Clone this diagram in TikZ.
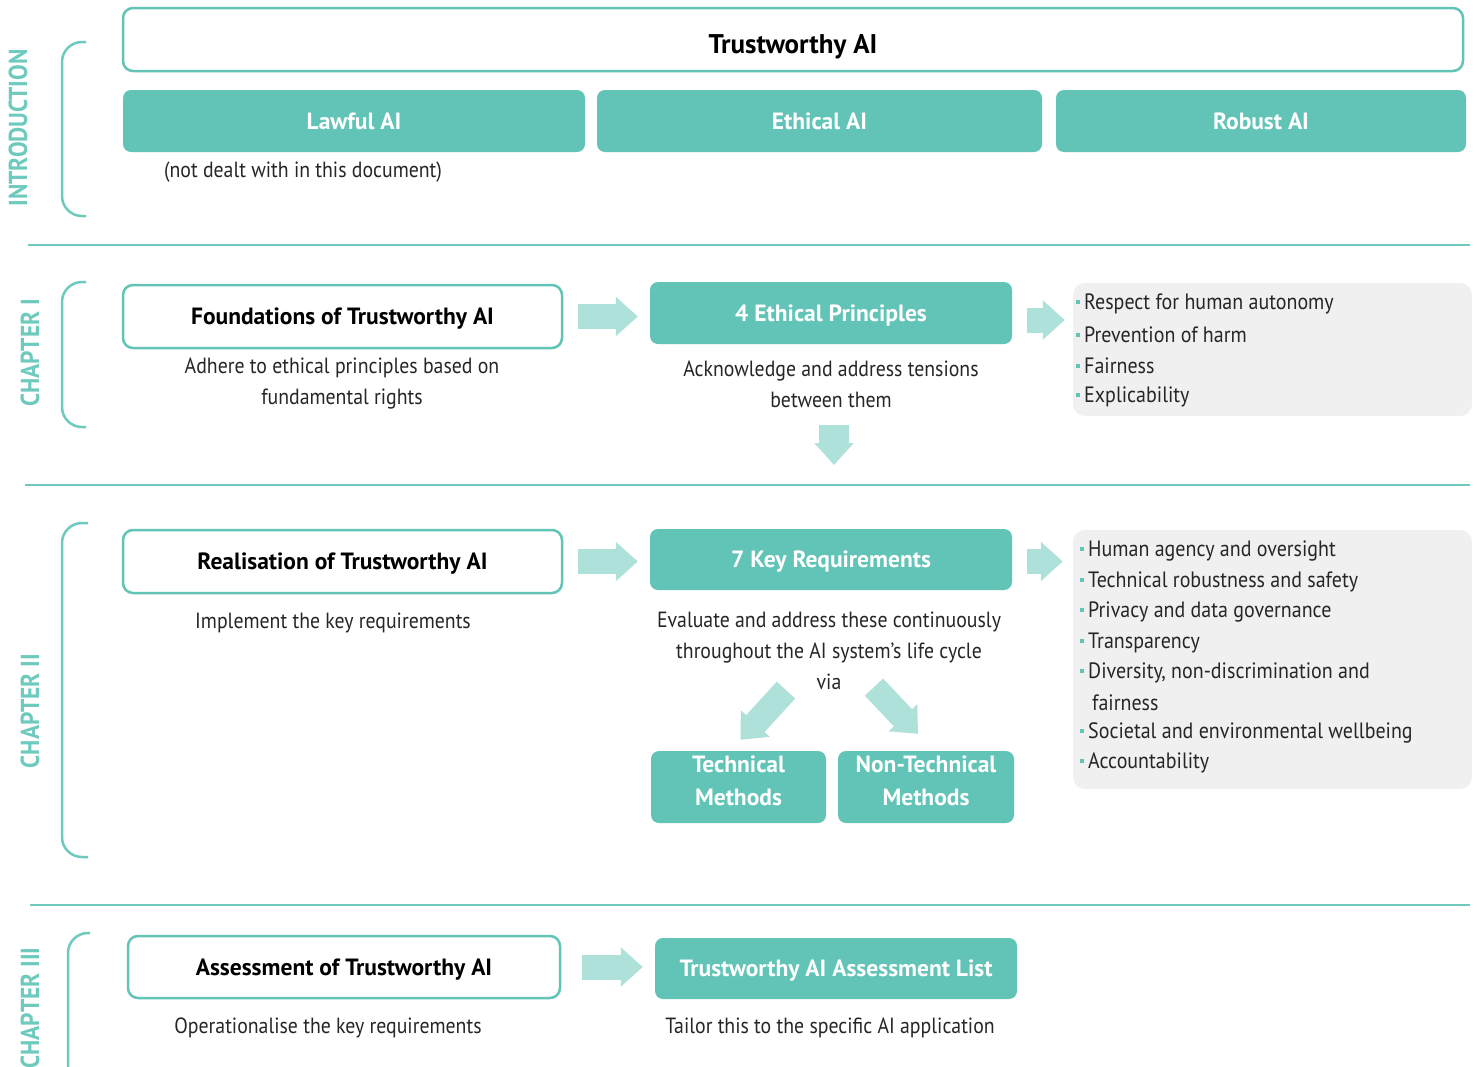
\documentclass[tikz,border=0pt]{standalone}
\usepackage{fontspec}
\setmainfont{PT Sans}[FakeStretch=0.9]
\newfontfamily\boldfont{PT Sans Bold}
\newfontfamily\condfont{PT Sans Bold}[FakeStretch=0.9]
\usetikzlibrary{arrows.meta,calc}
\definecolor{tealbox}{HTML}{62C4B7}
\definecolor{tealline}{HTML}{6FCABE}
\definecolor{arrowc}{HTML}{AEE1DA}
\definecolor{grayc}{HTML}{F0F0F0}
\definecolor{textc}{HTML}{262626}
\newcommand\bul{{\color{tealbox}\rule[0.26em]{4pt}{4pt}}\hspace{4pt}}
\tikzset{
  outbox/.style={draw=tealbox, line width=2.5pt, rounded corners=10pt, fill=white, inner sep=0pt,
    font=\boldfont\fontsize{23.5}{28}\selectfont, text=black, text depth=0pt},
  fillbox/.style={fill=tealbox, rounded corners=8pt, inner sep=0pt, text=white, align=center,
    font=\boldfont\fontsize{23.5}{33}\selectfont},
  onel/.style={text depth=0pt},
  twol/.style={text depth=12pt},
  graybox/.style={fill=grayc, rounded corners=12pt, inner sep=0pt},
  bodytxt/.style={font=\fontsize{22}{31}\selectfont, text=textc, align=center, inner sep=0pt},
  itemtxt/.style={font=\fontsize{22.2}{31}\selectfont, text=textc, anchor=west, inner sep=0pt},
  chaplabel/.style={rotate=90, text=tealline, font=\condfont\fontsize{26}{28}\selectfont, inner sep=0pt},
  sepline/.style={draw=tealline, line width=2.5pt},
  bracket/.style={draw=tealline, line width=2.5pt, rounded corners=20pt},
  blockarr/.style={draw=arrowc, line width=25pt, -{Triangle[length=22pt,width=38pt]}},
}
\begin{document}
\begin{tikzpicture}[x=1pt,y=-1pt]
\clip (0,0) rectangle (1477,1066);
\fill[white] (0,0) rectangle (1477,1066);

% ---------- INTRODUCTION ----------
\node[chaplabel] (lintro) at (18,128) {INTRODUCTION};
\draw[bracket] (86,42) -- (62,42) -- (62,216) -- (86,216);
\node[outbox, minimum width=1340pt, minimum height=63pt, font=\boldfont\fontsize{27}{30}\selectfont, text height=27pt] (ttl) at (793,39.5) {Trustworthy AI};
\node[fillbox, onel, minimum width=462pt, minimum height=62pt] (lawful) at (354,121) {Lawful AI};
\node[fillbox, onel, minimum width=445pt, minimum height=62pt] (ethical) at (819.5,121) {Ethical AI};
\node[fillbox, onel, minimum width=410pt, minimum height=62pt] (robust) at (1261,121) {Robust AI};
\node[bodytxt] (notdealt) at (303,172) {(not dealt with in this document)};

\draw[sepline] (28,245) -- (1470,245);

% ---------- CHAPTER I ----------
\node[chaplabel] (lch1) at (30,353) {CHAPTER I};
\draw[bracket] (86,282) -- (62,282) -- (62,427) -- (86,427);
\node[outbox, minimum width=439pt, minimum height=63pt] (found) at (342.5,316.5) {Foundations of Trustworthy AI};
\node[bodytxt] (adhere) at (342,384) {Adhere to ethical principles based on\\fundamental rights};
\node[fillbox, onel, minimum width=362pt, minimum height=62pt] (fourep) at (831,313) {4 Ethical Principles};
\node[bodytxt] (acknow) at (831,384) {Acknowledge and address tensions\\between them};
\node[graybox, minimum width=399pt, minimum height=133pt] (plist) at (1272.5,349.5) {};
\node[itemtxt] (p1) at (1076,304) {\bul Respect for human autonomy};
\node[itemtxt] (p2) at (1076,335) {\bul Prevention of harm};
\node[itemtxt] (p3) at (1076,366) {\bul Fairness};
\node[itemtxt] (p4) at (1076,397) {\bul Explicability};
\coordinate (dn) at (834,465);
\draw[blockarr] ([xshift=15pt]found.east) -- ([xshift=-12pt]fourep.west |- found.east);
\draw[blockarr] ($(fourep.east)+(15,7)$) -- ($(plist.west |- fourep.east)+(-8,7)$);
\draw[blockarr, line width=30pt] ($(acknow.south)+(3,17)$) -- (dn);

\draw[sepline] (25,485) -- (1470,485);

% ---------- CHAPTER II ----------
\node[chaplabel] (lch2) at (30,711) {CHAPTER II};
\draw[bracket] (88,523) -- (62,523) -- (62,857) -- (88,857);
\node[outbox, minimum width=439pt, minimum height=63pt] (realis) at (342.5,561.5) {Realisation of Trustworthy AI};
\node[bodytxt] (implement) at (333,623) {Implement the key requirements};
\node[fillbox, onel, minimum width=362pt, minimum height=61pt] (sevenkr) at (831,559.5) {7 Key Requirements};
\node[bodytxt] (evaluate) at (829,651) {Evaluate and address these continuously\\throughout the AI system's life cycle\\via};
\node[fillbox, twol, minimum width=175pt, minimum height=72pt] (tech) at (738.5,787) {Technical\\Methods};
\node[fillbox, twol, minimum width=176pt, minimum height=72pt] (nontech) at (926,787) {Non-Technical\\Methods};
\node[graybox, minimum width=399pt, minimum height=259pt] (rlist) at (1272.5,659.5) {};
\node[itemtxt] (r1) at (1080,551) {\bul Human agency and oversight};
\node[itemtxt] (r2) at (1080,582) {\bul Technical robustness and safety};
\node[itemtxt] (r3) at (1080,612) {\bul Privacy and data governance};
\node[itemtxt] (r4) at (1080,643) {\bul Transparency};
\node[itemtxt] (r5) at (1080,673) {\bul Diversity, non-discrimination and};
\node[itemtxt] (r5b) at (1092,703) {fairness};
\node[itemtxt] (r6) at (1080,733) {\bul Societal and environmental wellbeing};
\node[itemtxt] (r7) at (1080,763) {\bul Accountability};
\draw[blockarr] ([xshift=15pt]realis.east) -- ([xshift=-12pt]sevenkr.west |- realis.east);
\draw[blockarr] ($(sevenkr.east)+(15,2)$) -- ($(rlist.west |- sevenkr.east)+(-10,2)$);
\draw[blockarr] ($(evaluate.south)+(-43,0)$) -- ($(tech.north)+(2,-11)$);
\draw[blockarr] ($(evaluate.south)+(45,-3)$) -- ($(nontech.north)+(-8,-17)$);

\draw[sepline] (30,905) -- (1470,905);

% ---------- CHAPTER III ----------
\node[chaplabel] (lch3) at (30,1008) {CHAPTER III};
\draw[bracket] (90,933) -- (68,933) -- (68,1080);
\node[outbox, minimum width=432pt, minimum height=62pt] (assess) at (344,967) {Assessment of Trustworthy AI};
\node[bodytxt] (operat) at (328,1028) {Operationalise the key requirements};
\node[fillbox, onel, minimum width=362pt, minimum height=61pt] (tal) at (836,968.5) {Trustworthy AI Assessment List};
\node[bodytxt] (tailor) at (830,1028) {Tailor this to the specific AI application};
\draw[blockarr] ([xshift=21pt]assess.east) -- ([xshift=-12pt]tal.west |- assess.east);
\end{tikzpicture}
\end{document}
